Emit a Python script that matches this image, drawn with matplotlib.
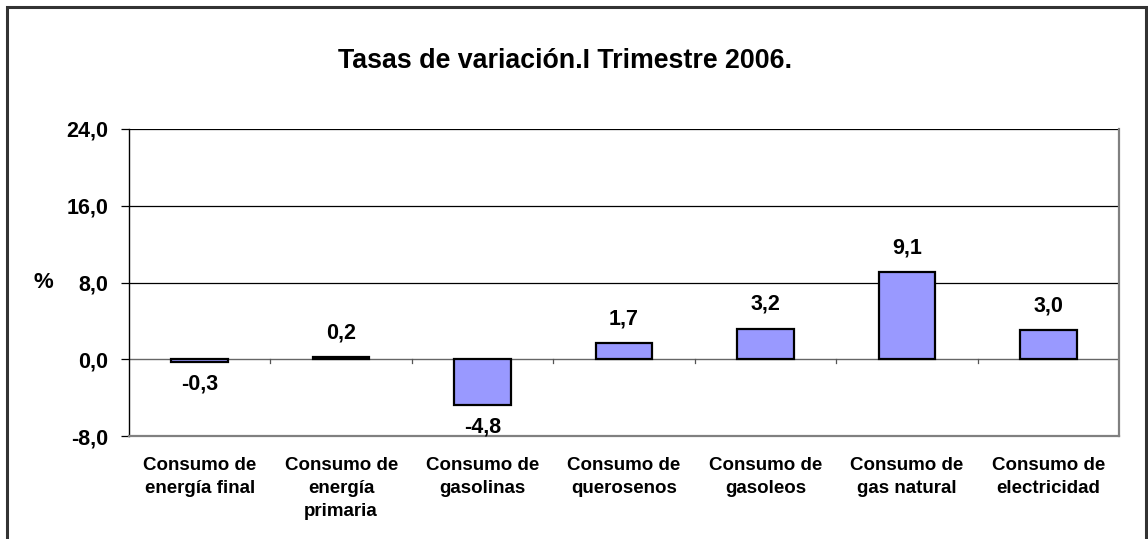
import matplotlib
matplotlib.use("Agg")
import matplotlib.pyplot as plt
from matplotlib.patches import Rectangle
from matplotlib.ticker import FixedLocator, FuncFormatter

categories = ["Consumo de\nenergía final", "Consumo de\nenergía\nprimaria",
              "Consumo de\ngasolinas", "Consumo de\nquerosenos",
              "Consumo de\ngasoleos", "Consumo de\ngas natural",
              "Consumo de\nelectricidad"]
values = [-0.3, 0.2, -4.8, 1.7, 3.2, 9.1, 3.0]
yticks = [-8.0, 0.0, 8.0, 16.0, 24.0]
title = "Tasas de variación.I Trimestre 2006."

plt.rcParams['font.family'] = ['Liberation Sans', 'DejaVu Sans']

W, H = 1148, 539
fig = plt.figure(figsize=(W/100, H/100), dpi=100)
fig.patch.set_facecolor('white')

# outer border
fig.patches.append(Rectangle((7/W, -0.05), (1146-7)/W, 1.05 - 7/H,
                             transform=fig.transFigure, fill=False,
                             edgecolor='#333333', linewidth=2.2))

left, right, top, bottom = 129, 1119, 129, 436
ax = fig.add_axes([left/W, 1-bottom/H, (right-left)/W, (bottom-top)/H])

x = list(range(len(values)))
ax.bar(x, values, width=0.40, color='#9999FF', edgecolor='black',
       linewidth=1.6, zorder=3)

ax.set_xlim(-0.5, len(values)-0.5)
ax.set_ylim(-8, 24)

# gridlines
for t in yticks[2:]:
    ax.axhline(t, color='black', linewidth=0.9, zorder=1)
ax.axhline(0, color='#666666', linewidth=1.0, zorder=2)
# ticks on zero axis between categories
for i in range(1, len(values)):
    ax.plot([i-0.5, i-0.5], [0, -0.35], color='#555555', linewidth=0.9, zorder=2)

ax.yaxis.set_major_locator(FixedLocator(yticks))
ax.yaxis.set_major_formatter(FuncFormatter(lambda v, p: f"{v:.1f}".replace('.', ',')))
ax.tick_params(axis='y', direction='out', length=6, width=0.9, pad=9,
               labelsize=15.5, colors='black')
for lab in ax.get_yticklabels():
    lab.set_fontweight('bold')

ax.set_xticks(x)
ax.set_xticklabels(categories, fontsize=13.5, fontweight='bold',
                   linespacing=1.45, va='top')
ax.tick_params(axis='x', length=0, pad=15)

ax.spines['top'].set_visible(False)
ax.spines['left'].set_color('black')
ax.spines['left'].set_linewidth(1.0)
ax.spines['right'].set_color('#808080')
ax.spines['right'].set_linewidth(1.6)
ax.spines['bottom'].set_color('#808080')
ax.spines['bottom'].set_linewidth(1.6)

for xi, v in zip(x, values):
    lbl = f"{v:.1f}".replace('.', ',')
    if v >= 0:
        ax.annotate(lbl, (xi, v), xytext=(0, 10), textcoords='offset points',
                    ha='center', va='bottom', fontsize=15.5, fontweight='bold')
    else:
        ax.annotate(lbl, (xi, v), xytext=(0, -8), textcoords='offset points',
                    ha='center', va='top', fontsize=15.5, fontweight='bold')

fig.text(43/W, 1-283/H, "%", ha='center', va='center', fontsize=16,
         fontweight='bold')
fig.text(565/W, 1-61/H, title, ha='center', va='center', fontsize=19.3,
         fontweight='bold')

fig.savefig("out.png", dpi=100, facecolor='white')
